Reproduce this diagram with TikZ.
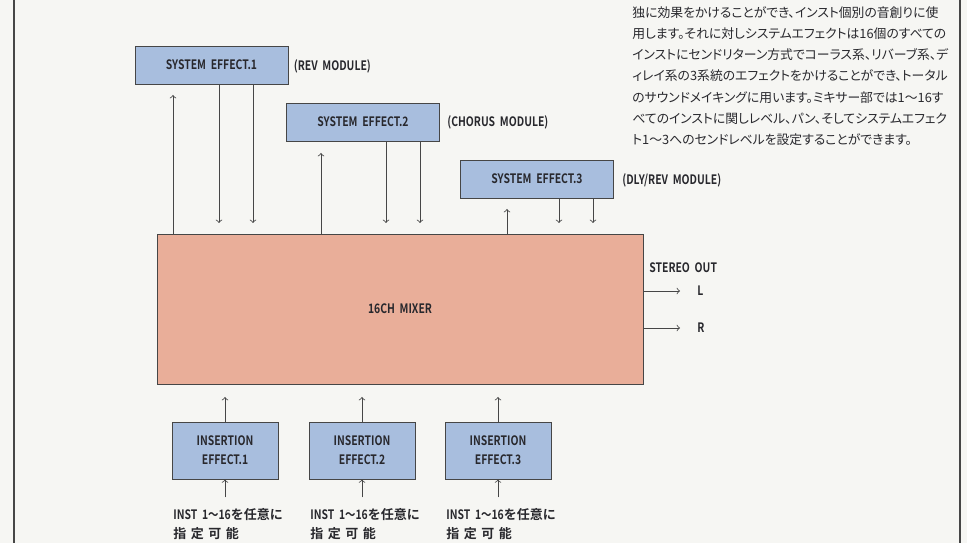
\documentclass[tikz,border=0pt]{standalone}
\usepackage{fontspec}
\setmainfont{Noto Sans CJK JP}
\newfontfamily\labfont[FakeStretch=0.8]{Noto Sans CJK JP Bold}
\newfontfamily\jlabfont{Noto Sans CJK JP Bold}
\newfontfamily\notefont[RawFeature=+palt]{Noto Sans CJK JP}
\definecolor{paper}{RGB}{246,246,243}
\definecolor{effblue}{RGB}{168,190,222}
\definecolor{mixsalmon}{RGB}{233,174,153}
\definecolor{ink}{RGB}{70,70,70}
\definecolor{labink}{RGB}{40,40,45}

\tikzset{
  effbox/.style={draw=ink,fill=effblue,line width=0.5pt,inner sep=0pt,minimum width=3.06cm,minimum height=0.76cm,text=labink,font=\labfont\fontsize{7.4}{9}\selectfont},
  insbox/.style={draw=ink,fill=effblue,line width=0.5pt,inner sep=0pt,minimum width=2.12cm,minimum height=1.14cm,align=center,text=labink,font=\labfont\fontsize{7.4}{10.8}\selectfont},
  mixbox/.style={draw=ink,fill=mixsalmon,line width=0.5pt,inner sep=0pt,minimum width=9.72cm,minimum height=3cm,text=labink,font=\labfont\fontsize{7.4}{9}\selectfont},
  lab/.style={inner sep=0pt,text=labink,font=\labfont\fontsize{7.4}{9}\selectfont},
  sig/.style={draw=ink,line width=0.45pt,->}
}

\begin{document}
\begin{tikzpicture}[x=0.02cm,y=-0.02cm]
			\fill[paper] (0,0) rectangle (967,543);
			\useasboundingbox (0,0) rectangle (967,543);
			\draw[ink,line width=0.6pt] (14,0) -- (14,543);
			\draw[ink,line width=0.6pt] (960,0) -- (960,543);
			
			\coordinate (e1) at (211.5,65);
			\coordinate (e2) at (363,122);
			\coordinate (e3) at (537,179);
			\coordinate (m) at (400,309);
			\coordinate (i1) at (225,450.5);
			\coordinate (i2) at (362,450.5);
			\coordinate (i3) at (498,450.5);
			
			\node[effbox] (SysEff1) at (e1) {SYSTEM\ \ EFFECT.1};
			\node[effbox] (SysEff2) at (e2) {SYSTEM\ \ EFFECT.2};
			\node[effbox] (SysEff3) at (e3) {SYSTEM\ \ EFFECT.3};
			\node[mixbox] (Mixer) at (m) {16CH\ \ MIXER};
			\node[insbox] (InsEff1) at (i1) {INSERTION\\EFFECT.1};
			\node[insbox] (InsEff2) at (i2) {INSERTION\\EFFECT.2};
			\node[insbox] (InsEff3) at (i3) {INSERTION\\EFFECT.3};
			
			\node[lab,anchor=west] (Mod1) at ([shift={(82,1)}]e1) {(REV\ \ MODULE)};
			\node[lab,anchor=west] (Mod2) at ([shift={(84,0)}]e2) {(CHORUS\ \ MODULE)};
			\node[lab,anchor=west] (Mod3) at ([shift={(85,1)}]e3) {(DLY/REV\ \ MODULE)};
			
			% sends and returns
			\coordinate (ret1) at (173,95);
			\coordinate (snd1a) at (219,223);
			\coordinate (snd1b) at (253,223);
			\coordinate (ret2) at (321,153);
			\coordinate (snd2a) at (386,223);
			\coordinate (snd2b) at (420,223);
			\coordinate (ret3) at (507,209);
			\coordinate (snd3a) at (559,223);
			\coordinate (snd3b) at (593,223);
			\draw[sig] (Mixer.north -| ret1) -- (ret1);
			\draw[sig] (SysEff1.south -| snd1a) -- (snd1a);
			\draw[sig] (SysEff1.south -| snd1b) -- (snd1b);
			\draw[sig] (Mixer.north -| ret2) -- (ret2);
			\draw[sig] (SysEff2.south -| snd2a) -- (snd2a);
			\draw[sig] (SysEff2.south -| snd2b) -- (snd2b);
			\draw[sig] (Mixer.north -| ret3) -- (ret3);
			\draw[sig] (SysEff3.south -| snd3a) -- (snd3a);
			\draw[sig] (SysEff3.south -| snd3b) -- (snd3b);
			
			% stereo out
			\coordinate (outL) at (680,291);
			\coordinate (outR) at (680,328);
			\draw[sig] (Mixer.east |- outL) -- (outL);
			\draw[sig] (Mixer.east |- outR) -- (outR);
			\node[lab,anchor=west] (StOut) at (649,268) {STEREO\ \ OUT};
			\node[lab,anchor=west] (LabL) at ([shift={(17,0)}]outL) {L};
			\node[lab,anchor=west] (LabR) at ([shift={(17,0)}]outR) {R};
			
			% insertion effects
			\coordinate (up1) at ([shift={(0,-53.5)}]i1);
			\coordinate (up2) at ([shift={(0,-53.5)}]i2);
			\coordinate (up3) at ([shift={(0,-53.5)}]i3);
			\coordinate (in1) at ([shift={(0,47)}]i1);
			\coordinate (in2) at ([shift={(0,47)}]i2);
			\coordinate (in3) at ([shift={(0,47)}]i3);
			\draw[sig] (InsEff1.north) -- (up1);
			\draw[sig] (InsEff2.north) -- (up2);
			\draw[sig] (InsEff3.north) -- (up3);
			\draw[sig] (in1) -- (InsEff1.south);
			\draw[sig] (in2) -- (InsEff2.south);
			\draw[sig] (in3) -- (InsEff3.south);
			
			\node[lab,anchor=north west,align=left,font=\labfont\fontsize{7.4}{10.8}\selectfont] (Inst1) at (173,508) {INST\ \ 1～16{\jlabfont を任意に}\\{\jlabfont 指\hspace{0.35em}定\hspace{0.35em}可\hspace{0.35em}能}};
			\node[lab,anchor=north west,align=left,font=\labfont\fontsize{7.4}{10.8}\selectfont] (Inst2) at (310,508) {INST\ \ 1～16{\jlabfont を任意に}\\{\jlabfont 指\hspace{0.35em}定\hspace{0.35em}可\hspace{0.35em}能}};
			\node[lab,anchor=north west,align=left,font=\labfont\fontsize{7.4}{10.8}\selectfont] (Inst3) at (446,508) {INST\ \ 1～16{\jlabfont を任意に}\\{\jlabfont 指\hspace{0.35em}定\hspace{0.35em}可\hspace{0.35em}能}};
			
			% note text
			\node[anchor=north west,align=left,inner sep=0pt,text=labink,font=\notefont\fontsize{7.3}{12.07}\selectfont] (Note) at (632,6) {独に効果をかけることができ、インスト個別の音創りに使\\用します。それに対しシステムエフェクトは16個のすべての\\インストにセンドリターン方式でコーラス系、リバーブ系、デ\\ィレイ系の3系統のエフェクトをかけることができ、トータル\\のサウンドメイキングに用います。ミキサー部では1～16す\\べてのインストに関しレベル、パン、そしてシステムエフェク\\ト1～3へのセンドレベルを設定することができます。};
		\end{tikzpicture}
\end{document}
